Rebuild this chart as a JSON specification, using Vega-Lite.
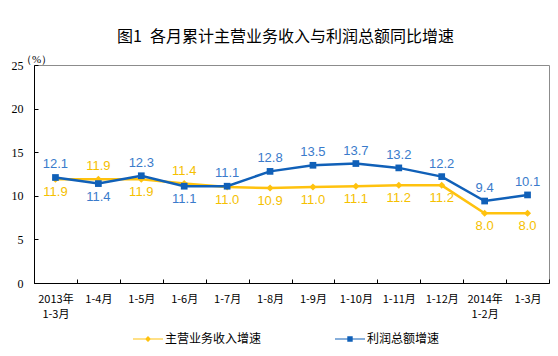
{
  "$schema": "https://vega.github.io/schema/vega-lite/v6.json",
  "width": 515,
  "height": 218,
  "autosize": {"type": "none"},
  "padding": {"left": 34, "top": 65, "right": 9, "bottom": 73},
  "background": "white",
  "title": {
    "text": "图1\u2002各月累计主营业务收入与利润总额同比增速",
    "font": "Noto Sans CJK SC",
    "fontSize": 16,
    "fontWeight": "normal",
    "color": "#000000",
    "anchor": "middle",
    "frame": "group",
    "offset": 8,
    "dx": -6
  },
  "config": {
    "view": {"stroke": "#8c8c8c", "strokeWidth": 1},
    "axis": {"grid": false, "domainColor": "#000000", "tickColor": "#000000", "labelColor": "#000000"}
  },
  "data": {
    "values": [
      {"m": "2013年\n1-3月", "s": "主营业务收入增速", "v": 11.9},
      {"m": "1-4月", "s": "主营业务收入增速", "v": 11.9},
      {"m": "1-5月", "s": "主营业务收入增速", "v": 11.9},
      {"m": "1-6月", "s": "主营业务收入增速", "v": 11.4},
      {"m": "1-7月", "s": "主营业务收入增速", "v": 11.0},
      {"m": "1-8月", "s": "主营业务收入增速", "v": 10.9},
      {"m": "1-9月", "s": "主营业务收入增速", "v": 11.0},
      {"m": "1-10月", "s": "主营业务收入增速", "v": 11.1},
      {"m": "1-11月", "s": "主营业务收入增速", "v": 11.2},
      {"m": "1-12月", "s": "主营业务收入增速", "v": 11.2},
      {"m": "2014年\n1-2月", "s": "主营业务收入增速", "v": 8.0},
      {"m": "1-3月", "s": "主营业务收入增速", "v": 8.0},
      {"m": "2013年\n1-3月", "s": "利润总额增速", "v": 12.1},
      {"m": "1-4月", "s": "利润总额增速", "v": 11.4},
      {"m": "1-5月", "s": "利润总额增速", "v": 12.3},
      {"m": "1-6月", "s": "利润总额增速", "v": 11.1},
      {"m": "1-7月", "s": "利润总额增速", "v": 11.1},
      {"m": "1-8月", "s": "利润总额增速", "v": 12.8},
      {"m": "1-9月", "s": "利润总额增速", "v": 13.5},
      {"m": "1-10月", "s": "利润总额增速", "v": 13.7},
      {"m": "1-11月", "s": "利润总额增速", "v": 13.2},
      {"m": "1-12月", "s": "利润总额增速", "v": 12.2},
      {"m": "2014年\n1-2月", "s": "利润总额增速", "v": 9.4},
      {"m": "1-3月", "s": "利润总额增速", "v": 10.1}
    ]
  },
  "transform": [
    {"joinaggregate": [{"op": "max", "field": "v", "as": "mx"}], "groupby": ["m"]}
  ],
  "encoding": {
    "x": {
      "field": "m",
      "type": "nominal",
      "sort": null,
      "scale": {"type": "band", "paddingInner": 0, "paddingOuter": 0},
      "axis": {
        "title": null,
        "labelAngle": 0,
        "tickBand": "extent",
        "tickSize": -4,
        "labelPadding": 14,
        "labelFont": "Noto Sans CJK SC",
        "labelFontSize": 11,
        "labelLineHeight": 15,
        "labelExpr": "split(datum.label, '\\n')"
      }
    },
    "y": {
      "field": "v",
      "type": "quantitative",
      "scale": {"domain": [0, 25], "nice": false},
      "axis": {
        "values": [0, 5, 10, 15, 20, 25],
        "tickSize": -4,
        "labelPadding": 15,
        "labelFont": "Liberation Serif",
        "labelFontSize": 12,
        "title": "（%）",
        "titleAngle": 0,
        "titleX": 2,
        "titleY": -6,
        "titleAlign": "center",
        "titleBaseline": "middle",
        "titleFont": "Liberation Serif",
        "titleFontSize": 11,
        "titleFontWeight": "normal",
        "titleColor": "#000000"
      }
    },
    "color": {
      "field": "s",
      "type": "nominal",
      "scale": {"domain": ["主营业务收入增速", "利润总额增速"], "range": ["#FFC20E", "#1060B8"]},
      "legend": {
        "title": null,
        "orient": "none",
        "legendX": 99,
        "legendY": 259,
        "direction": "horizontal",
        "symbolSize": 900,
        "symbolOpacity": 1,
        "symbolStrokeWidth": 0,
        "labelOffset": 2,
        "labelFont": "Noto Sans CJK SC",
        "labelFontSize": 12,
        "labelColor": "#000000",
        "columnPadding": 73,
        "encode": {
          "symbols": {
            "update": {
              "shape": {"signal": "datum.value == '主营业务收入增速' ? 'M-1,-0.04L1,-0.04L1,0.04L-1,0.04ZM0,-0.2L0.2,0L0,0.2L-0.2,0Z' : 'M-1,-0.04L1,-0.04L1,0.04L-1,0.04ZM-0.18,-0.18L0.18,-0.18L0.18,0.18L-0.18,0.18Z'"},
              "fill": {"signal": "datum.value == '主营业务收入增速' ? '#FFC20E' : '#1060B8'"},
              "stroke": {"value": "transparent"},
              "strokeWidth": {"value": 0},
              "size": {"value": 900},
              "fillOpacity": {"value": 1},
              "opacity": {"value": 1}
            }
          }
        }
      }
    }
  },
  "layer": [
    {"mark": {"type": "line", "strokeWidth": 2.5}},
    {
      "transform": [{"filter": "datum.s == '主营业务收入增速'"}],
      "mark": {"type": "point", "filled": true, "opacity": 1, "size": 50, "shape": "diamond"}
    },
    {
      "transform": [{"filter": "datum.s == '利润总额增速'"}],
      "mark": {"type": "point", "filled": true, "opacity": 1, "size": 45, "shape": "square"}
    },
    {
      "transform": [{"filter": "datum.v == datum.mx"}],
      "mark": {"type": "text", "dy": -13, "fontSize": 13, "font": "Liberation Sans"},
      "encoding": {
        "text": {"field": "v", "type": "quantitative", "format": ".1f"},
        "color": {"value": null},
        "fill": {
          "field": "s",
          "type": "nominal",
          "scale": {"domain": ["主营业务收入增速", "利润总额增速"], "range": ["#F5C000", "#3A7BCB"]},
          "legend": null
        }
      }
    },
    {
      "transform": [{"filter": "datum.v != datum.mx"}],
      "mark": {"type": "text", "dy": 13, "fontSize": 13, "font": "Liberation Sans"},
      "encoding": {
        "text": {"field": "v", "type": "quantitative", "format": ".1f"},
        "color": {"value": null},
        "fill": {
          "field": "s",
          "type": "nominal",
          "scale": {"domain": ["主营业务收入增速", "利润总额增速"], "range": ["#F5C000", "#3A7BCB"]},
          "legend": null
        }
      }
    }
  ]
}
